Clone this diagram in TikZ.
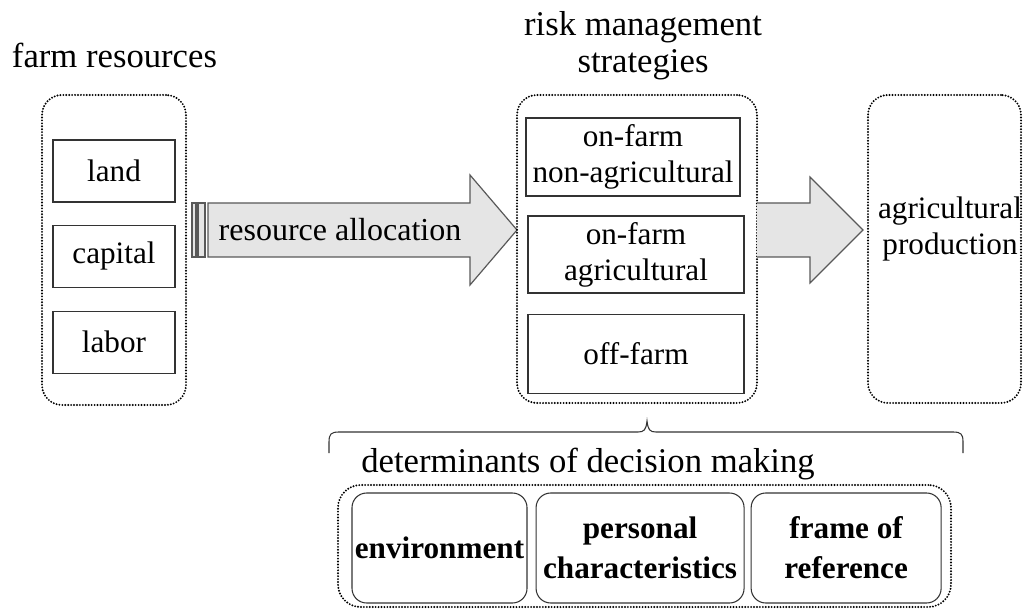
\documentclass[tikz,border=0pt]{standalone}
\usepackage{fontspec}
\setmainfont{Liberation Serif}
\usetikzlibrary{positioning, calc}

\begin{document}
\begin{tikzpicture}[
        x=0.75pt, y=-0.75pt,
        dotbox/.style={
            rectangle,
            draw=black,
            line width=1.6pt,
            dash pattern=on 0pt off 2.2pt,
            line cap=round,
            rounded corners=15pt,
            inner sep=0pt
        },
        itembox/.style={
            rectangle,
            draw=black!80,
            line width=0.8pt,
            align=center,
            inner sep=0pt,
            font=\fontsize{23.4}{27}\selectfont
        },
        factorbox/.style={
            rectangle,
            draw=black!80,
            line width=0.8pt,
            rounded corners=11pt,
            align=center,
            inner sep=0pt,
            minimum height=82.5pt,
            font=\fontsize{23.4}{30}\selectfont\bfseries
        },
        titletext/.style={
            align=center,
            inner sep=0pt,
            font=\fontsize{26}{27.75}\selectfont
        },
        blockarrow/.style={
            draw=black!65,
            line width=0.9pt,
            fill=gray!20,
            line join=miter
        },
        bracket/.style={
            draw=black!80,
            line width=0.8pt
        }
    ]

    \useasboundingbox (0,0) rectangle (1023,609);

    % --------------------------------------------------------
    % Farm resources
    % --------------------------------------------------------

    \node[titletext, anchor=base] (resTitle) at (114.5,68)
        {farm resources};

    \node[dotbox, minimum width=108pt, minimum height=232.5pt] (resources) at (114,250) {};

    \node[itembox, minimum width=91.5pt, minimum height=46.5pt] (land) at (114,171)
        {land};

    \node[itembox, minimum width=91.5pt, minimum height=46.5pt, below=16.5pt of land] (capital)
        {capital};

    \node[itembox, minimum width=91.5pt, minimum height=46.5pt, below=17.25pt of capital] (labor)
        {labor};

    % --------------------------------------------------------
    % Resource allocation arrow
    % --------------------------------------------------------

    \draw[blockarrow] (192,203) rectangle (196,257);
    \draw[blockarrow] (198,203) rectangle (205,257);
    \draw[blockarrow]
        (208,203) -- (470,203) -- (470,175)
        -- (517,230)
        -- (470,285) -- (470,257) -- (208,257) -- cycle;

    \node[anchor=base, inner sep=0pt, font=\fontsize{24}{28}\selectfont] (allocation) at (340,241)
        {resource allocation};

    % --------------------------------------------------------
    % Risk management strategies
    % --------------------------------------------------------

    \node[titletext] (stratTitle) at (643,45.5)
        {risk management\\strategies};

    \node[dotbox, minimum width=180pt, minimum height=231pt] (strategies) at (637,249) {};

    \node[itembox, minimum width=160.5pt, minimum height=58.5pt] (nonAgri) at (633,157)
        {on-farm\\non-agricultural};

    \node[itembox, minimum width=162pt, minimum height=57.75pt] (agri) at (636,254.5)
        {on-farm\\agricultural};

    \node[itembox, minimum width=162pt, minimum height=59.25pt, below=15pt of agri] (offFarm)
        {off-farm};

    % --------------------------------------------------------
    % Production
    % --------------------------------------------------------

    \draw[blockarrow]
        (757,203) -- (810,203) -- (810,177)
        -- (863,230)
        -- (810,283) -- (810,257) -- (757,257);

    \node[dotbox, minimum width=114.75pt, minimum height=231pt] (production) at (944.5,249) {};

    \node[itembox, draw=none] (prodText) at (950,229)
        {agricultural\\production};

    % --------------------------------------------------------
    % Determinants of decision making
    % --------------------------------------------------------

    \coordinate (braceL) at (329,453);
    \coordinate (braceTip) at (647,421);
    \coordinate (braceR) at (963,453);

    \draw[bracket]
        (braceL) -- (329,442)
        .. controls (329,434) and (331,432) .. (339,432)
        -- (638,432)
        .. controls (644,432) and (646,430) .. (braceTip)
        .. controls (648,430) and (650,432) .. (656,432)
        -- (953,432)
        .. controls (961,432) and (963,434) .. (963,442)
        -- (braceR);

    \node[titletext, anchor=base] (detTitle) at (588,472)
        {determinants of decision making};

    \node[dotbox, rounded corners=17pt, minimum width=459.75pt, minimum height=91.5pt] (determinants) at (644.5,546) {};

    \node[factorbox, minimum width=131.25pt] (environment) at (439.5,548)
        {environment};

    \node[factorbox, minimum width=156pt, right=6pt of environment] (personal)
        {personal\\characteristics};

    \node[factorbox, minimum width=142.5pt, right=4.5pt of personal] (frame)
        {frame of\\reference};

\end{tikzpicture}
\end{document}
